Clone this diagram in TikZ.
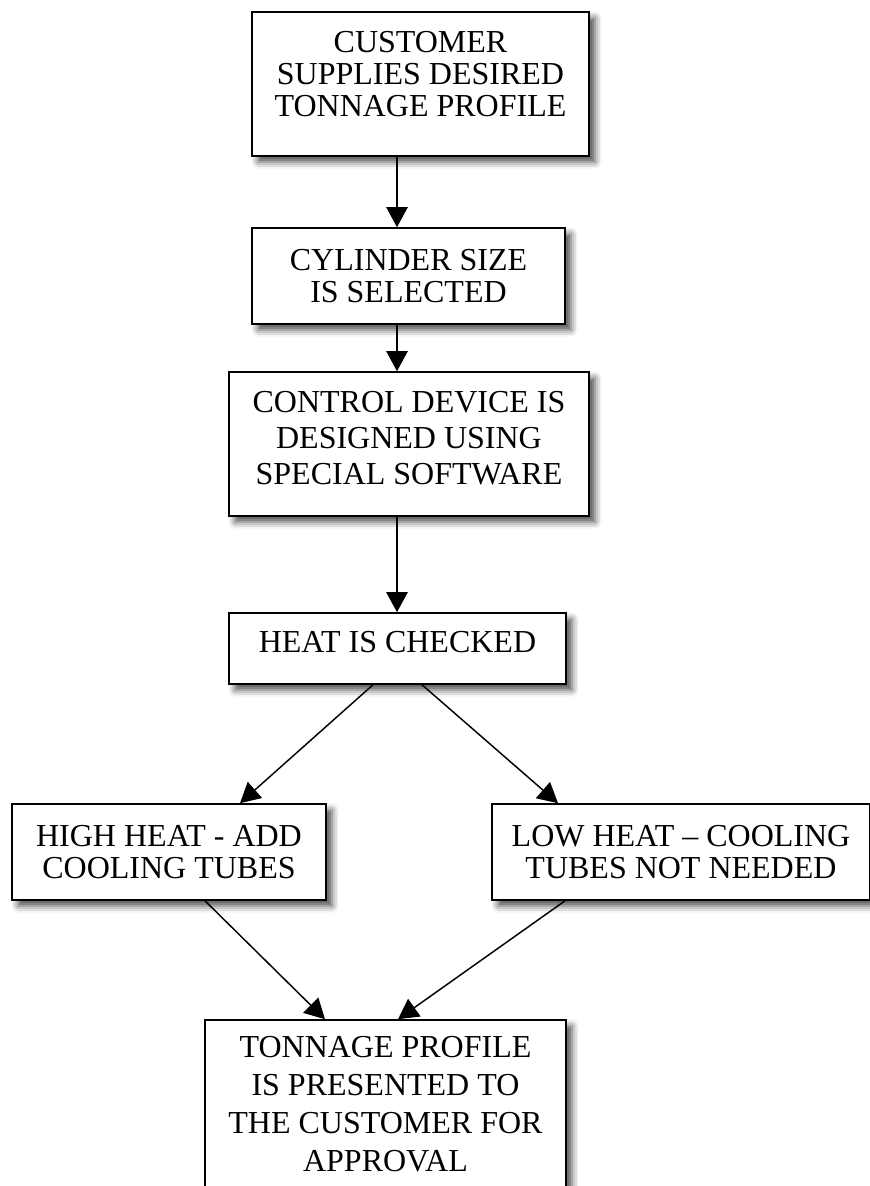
\documentclass[tikz,border=0pt]{standalone}
\usepackage{fontspec}
\setmainfont{Liberation Serif}
\usetikzlibrary{arrows.meta,shadows.blur}

\begin{document}
\begin{tikzpicture}[x=0.75pt,y=-0.75pt,
        stage/.style={draw,line width=1.2pt,fill=white,align=center,inner sep=2pt,
            font=\fontsize{24}{24}\selectfont,
            blur shadow={shadow xshift=4.5pt,shadow yshift=-4.5pt,shadow blur radius=5pt,shadow opacity=70}},
        words/.style={align=center,inner sep=0pt,font=\fontsize{24}{24}\selectfont},
        flow/.style={line width=1.1pt,-{Triangle[length=15pt,width=16pt]}}]
        \useasboundingbox (0,0) rectangle (870,1186);
        \coordinate (mid) at (397,0);
        \node[stage,minimum width=252.75pt,minimum height=108pt,
            label={[words,name=supply-text,yshift=7.5pt]center:CUSTOMER\\SUPPLIES DESIRED\\TONNAGE PROFILE}]
            (supply) at (420.5,84) {};
        \node[stage,minimum width=234.75pt,minimum height=72pt] (cylinder) at (408.5,276)
            {CYLINDER SIZE\\IS SELECTED};
        \node[stage,minimum width=270pt,minimum height=108pt,
            label={[words,font=\fontsize{24}{27}\selectfont,name=control-text,yshift=4.5pt]center:CONTROL DEVICE IS\\DESIGNED USING\\SPECIAL SOFTWARE}]
            (control) at (409,444) {};
        \node[stage,minimum width=252.75pt,minimum height=53.25pt,
            label={[words,name=heat-text,yshift=4.5pt]center:HEAT IS CHECKED}]
            (heat) at (397.5,648.5) {};
        \node[stage,minimum width=235.5pt,minimum height=72pt] (high) at (169,852)
            {HIGH HEAT - ADD\\COOLING TUBES};
        \node[stage,minimum width=283.5pt,minimum height=72pt] (low) at (681,852)
            {LOW HEAT – COOLING\\TUBES NOT NEEDED};
        \node[stage,font=\fontsize{24}{28.5}\selectfont,minimum width=270.75pt,minimum height=126pt] (approval) at (385.5,1104)
            {TONNAGE PROFILE\\IS PRESENTED TO\\THE CUSTOMER FOR\\APPROVAL};
        \path[flow]
            (supply.south -| mid) edge (cylinder.north -| mid)
            (cylinder.south -| mid) edge (control.north -| mid)
            (control.south -| mid) edge (heat.north -| mid)
            ([xshift=-18.4pt]heat.south) edge ([xshift=53.25pt]high.north)
            ([xshift=18.4pt]heat.south) edge ([xshift=-92.25pt]low.north)
            ([xshift=27pt]high.south) edge ([xshift=-45.4pt]approval.north)
            ([xshift=-87pt]low.south) edge ([xshift=9.4pt]approval.north)
            ;
    \end{tikzpicture}
\end{document}
